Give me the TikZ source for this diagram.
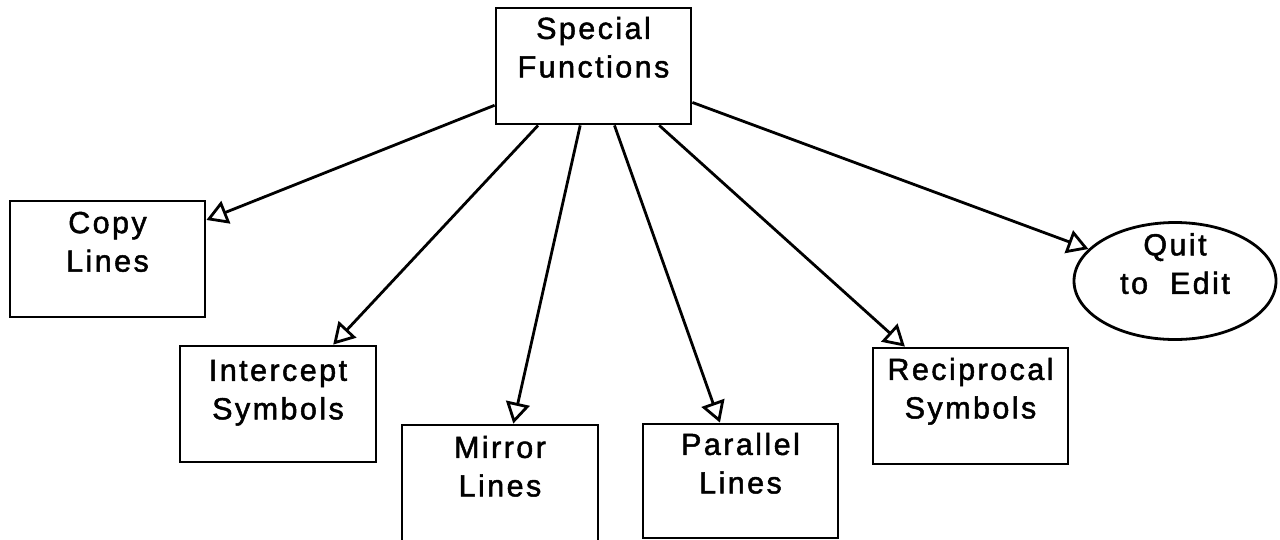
\documentclass[tikz,border=0pt]{standalone}
\usepackage{fontspec}
\setmainfont{Liberation Sans}[LetterSpace=8, FakeBold=1.6]
\usetikzlibrary{arrows.meta,shapes.geometric}

\tikzset{
  box/.style={draw=black, line width=2.8pt, fill=white, rectangle, inner sep=0pt,
              minimum width=195pt, minimum height=116pt},
  oval/.style={draw=black, line width=2.8pt, fill=white, ellipse, inner sep=0pt,
               minimum width=202pt, minimum height=117pt},
  lbl/.style={anchor=north, align=center, inner sep=0pt,
              font=\fontsize{30.5pt}{38.5pt}\selectfont},
  link/.style={draw=black, line width=2.8pt,
               -{Triangle[open, length=21pt, width=24pt]}}
}

\begin{document}
\begin{tikzpicture}[x=1pt, y=-1pt]
  \clip (0,0) rectangle (1280,539);
  \fill[white] (0,0) rectangle (1280,539);

  % menu boxes
  \node[box] (sf) at (593.5,66)  {};
  \node[box] (cl) at (107.5,259) {};
  \node[box, minimum width=196pt] (ic) at (278,404) {};
  \node[box, minimum width=196pt] (mr) at (500,483) {};
  \node[box, minimum height=114pt] (pl) at (740.5,481) {};
  \node[box] (rc) at (970.5,406) {};
  \node[oval] (qe) at (1175,281) {};

  % box captions, set near the top of each box
  \node[lbl] (sf-t) at ([yshift=-10pt]sf.north) {Special\\Functions};
  \node[lbl] (cl-t) at ([yshift=-12pt]cl.north) {Copy\\Lines};
  \node[lbl] (ic-t) at ([yshift=-15pt]ic.north) {Intercept\\Symbols};
  \node[lbl] (mr-t) at ([yshift=-12pt]mr.north) {Mirror\\Lines};
  \node[lbl] (pl-t) at ([yshift=-10pt]pl.north) {Parallel\\Lines};
  \node[lbl] (rc-t) at ([yshift=-11pt]rc.north) {Reciprocal\\Symbols};
  \node[lbl] (qe-t) at (1175,233) {Quit\\to~~Edit};

  % links from the main menu
  \draw[link] (sf) -- (cl);
  \draw[link] (sf) -- (ic);
  \draw[link] (sf) -- (mr);
  \draw[link] (sf) -- (pl);
  \draw[link] (sf) -- (rc);
  \draw[link] (sf) -- (qe);
\end{tikzpicture}
\end{document}
